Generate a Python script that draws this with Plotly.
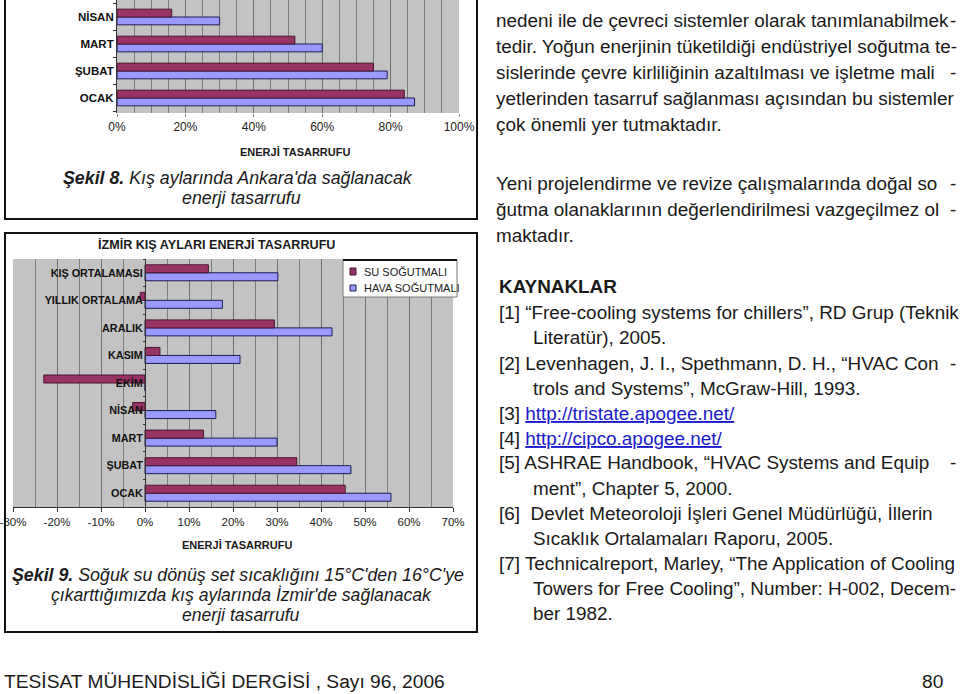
import plotly.graph_objects as go

# Şekil 8 - Ankara (only the lower part of the chart is visible on the page)
ankara_months = ["OCAK", "ŞUBAT", "MART", "NİSAN"]
ankara_su = [0.84, 0.75, 0.52, 0.16]
ankara_hava = [0.87, 0.79, 0.60, 0.30]
ankara_ticks = [0, 0.2, 0.4, 0.6, 0.8, 1.0]
ankara_ticktext = ["0%", "20%", "40%", "60%", "80%", "100%"]

# Şekil 9 - İzmir
izmir_cats = ["OCAK", "ŞUBAT", "MART", "NİSAN", "EKİM", "KASIM", "ARALIK",
              "YILLIK ORTALAMA", "KIŞ ORTALAMASI"]
izmir_su = [0.455, 0.345, 0.133, -0.028, -0.23, 0.034, 0.294, -0.011, 0.144]
izmir_hava = [0.559, 0.468, 0.300, 0.161, 0.0, 0.216, 0.425, 0.176, 0.302]
izmir_ticks = [-0.3, -0.2, -0.1, 0, 0.1, 0.2, 0.3, 0.4, 0.5, 0.6, 0.7]
izmir_ticktext = ["-30%", "-20%", "-10%", "0%", "10%", "20%", "30%", "40%", "50%", "60%", "70%"]

series_names = ["SU SOĞUTMALI", "HAVA SOĞUTMALI"]
su_color, hava_color = "#993366", "#9999FF"

body_lines = [
    "nedeni ile de çevreci sistemler olarak tanımlanabilmek",
    "tedir. Yoğun enerjinin tüketildiği endüstriyel soğutma te-",
    "sislerinde çevre kirliliğinin azaltılması ve işletme mali",
    "yetlerinden tasarruf sağlanması açısından bu sistemler",
    "çok önemli yer tutmaktadır.",
    "Yeni projelendirme ve revize çalışmalarında doğal so",
    "ğutma olanaklarının değerlendirilmesi vazgeçilmez ol",
    "maktadır.",
]
body_y = [21, 47, 73, 99, 124, 183, 209, 235]
body_hyphen = [True, False, True, False, False, True, True, False]

ref_lines = [
    ("[1] “Free-cooling systems for chillers”, RD Grup (Teknik", 0, False, False),
    ("Literatür), 2005.", 1, False, False),
    ("[2] Levenhagen, J. I., Spethmann, D. H., “HVAC Con", 0, True, False),
    ("trols and Systems”, McGraw-Hill, 1993.", 1, False, False),
    ("[3] |http://tristate.apogee.net/", 0, False, True),
    ("[4] |http://cipco.apogee.net/", 0, False, True),
    ("[5] ASHRAE Handbook, “HVAC Systems and Equip", 0, True, False),
    ("ment”, Chapter 5, 2000.", 1, False, False),
    ("[6]  Devlet Meteoroloji İşleri Genel Müdürlüğü, İllerin", 0, False, False),
    ("Sıcaklık Ortalamaları Raporu, 2005.", 1, False, False),
    ("[7] Technicalreport, Marley, “The Application of Cooling", 0, False, False),
    ("Towers for Free Cooling”, Number: H-002, Decem-", 1, False, False),
    ("ber 1982.", 1, False, False),
]
ref_y = [312, 337, 363, 388, 413, 438, 462, 488, 513, 538, 563, 588, 613]

W, H = 960, 694
FONT = "Liberation Sans, Arial, sans-serif"
TXT = "#1a1a1a"
BODY = 18.9


def px(x):
    return x / W


def py(y):
    return 1 - y / H


fig = go.Figure()

# Ankara chart (hava first so su sits above it in each group)
fig.add_trace(go.Bar(y=ankara_months, x=ankara_hava, orientation="h", name=series_names[1],
                     marker=dict(color=hava_color, line=dict(color="#1c1c55", width=1)),
                     xaxis="x", yaxis="y", showlegend=False))
fig.add_trace(go.Bar(y=ankara_months, x=ankara_su, orientation="h", name=series_names[0],
                     marker=dict(color=su_color, line=dict(color="#4a1530", width=1)),
                     xaxis="x", yaxis="y", showlegend=False))

# İzmir chart
fig.add_trace(go.Bar(y=izmir_cats, x=izmir_hava, orientation="h", name=series_names[1],
                     marker=dict(color=hava_color, line=dict(color="#1c1c55", width=1)),
                     xaxis="x2", yaxis="y2", showlegend=False))
fig.add_trace(go.Bar(y=izmir_cats, x=izmir_su, orientation="h", name=series_names[0],
                     marker=dict(color=su_color, line=dict(color="#4a1530", width=1)),
                     xaxis="x2", yaxis="y2", showlegend=False))

grid = dict(showgrid=True, gridcolor="#6f6f6f", gridwidth=1, automargin=False,
            ticklabeloverflow="allow")
minor = dict(dtick=0.05, tick0=0, showgrid=True, gridcolor="#7d7d7d", gridwidth=1)

fig.update_layout(
    template="none",
    width=W, height=H,
    margin=dict(l=0, r=0, t=0, b=0, pad=0),
    paper_bgcolor="white",
    plot_bgcolor="#c3c3c3",
    barmode="group", bargap=0.42, bargroupgap=0,
    showlegend=False,
    font=dict(family=FONT, color=TXT),
    xaxis=dict(domain=[px(117), px(459)], anchor="y", range=[0, 1],
               tickmode="array", tickvals=ankara_ticks, ticktext=ankara_ticktext,
               tickfont=dict(size=12, color="#222"),
               ticks="outside", ticklen=3, tickcolor="#888",
               zeroline=False, showline=False, minor=minor, **grid),
    yaxis=dict(domain=[py(113), 1], anchor="x", range=[-0.556, 3.63], automargin=False,
               tickfont=dict(size=11.5, weight="bold", color="#111"),
               ticks="outside", ticklen=3, tickson="boundaries", tickcolor="#333",
               showline=True, linecolor="#333", linewidth=1, showgrid=False, zeroline=False),
    xaxis2=dict(domain=[px(13), px(453)], anchor="y2", range=[-0.3, 0.7],
                tickmode="array", tickvals=izmir_ticks, ticktext=izmir_ticktext,
                tickfont=dict(size=11.5, color="#222"),
                ticks="outside", ticklen=4, tickcolor="#333",
                showline=True, linecolor="#333", linewidth=1,
                zeroline=True, zerolinecolor="#333", zerolinewidth=1,
                minor=minor, **grid),
    yaxis2=dict(domain=[py(507), py(259)], anchor="free", position=px(145),
                range=[-0.5, 8.5], automargin=False,
                tickfont=dict(size=10.8, weight="bold", color="#111"),
                ticks="outside", ticklen=2, tickson="boundaries", tickcolor="#333",
                showline=True, linecolor="#333", linewidth=1, showgrid=False, zeroline=False),
)

shapes = [
    # figure frames
    dict(type="rect", xref="paper", yref="paper", x0=px(5), x1=px(477), y0=py(219), y1=py(-10),
         line=dict(color="#111", width=2)),
    dict(type="rect", xref="paper", yref="paper", x0=px(5), x1=px(477), y0=py(632), y1=py(233),
         line=dict(color="#111", width=2)),
    # legend box of the İzmir chart
    dict(type="rect", xref="paper", yref="paper", x0=px(343), x1=px(457), y0=py(297), y1=py(260),
         fillcolor="white", line=dict(color="#777", width=1), layer="above"),
    dict(type="line", xref="paper", yref="paper", x0=px(343), x1=px(457), y0=py(260), y1=py(260),
         line=dict(color="#111", width=2), layer="above"),
    dict(type="rect", xref="paper", yref="paper", x0=px(350), x1=px(356), y0=py(275), y1=py(268),
         fillcolor=su_color, line=dict(color="#4a1530", width=1), layer="above"),
    dict(type="rect", xref="paper", yref="paper", x0=px(350), x1=px(356), y0=py(291), y1=py(285),
         fillcolor=hava_color, line=dict(color="#1c1c55", width=1), layer="above"),
]
fig.update_layout(shapes=shapes)

ann = []


def text(x, y, s, size, anchor="left", **kw):
    ann.append(dict(x=px(x), y=py(y), xref="paper", yref="paper", text=s, showarrow=False,
                    xanchor=anchor, yanchor="middle",
                    font=dict(family=FONT, size=size, color=kw.get("color", TXT))))


# legend texts
text(362, 272, series_names[0], 11)
text(362, 288, series_names[1], 11)

# chart titles / axis titles / captions
text(216, 245, "<b>İZMİR KIŞ AYLARI ENERJİ TASARRUFU</b>", 12.6, "center")
text(295, 152, "<b>ENERJİ TASARRUFU</b>", 11, "center")
text(237, 545, "<b>ENERJİ TASARRUFU</b>", 11, "center")
text(238, 178, "<b><i>Şekil 8.</i></b><i> Kış aylarında Ankara'da sağlanacak</i>", 17.8, "center")
text(241, 198, "<i>enerji tasarrufu</i>", 17.8, "center")
text(238, 575, "<b><i>Şekil 9.</i></b><i> Soğuk su dönüş set sıcaklığını 15°C'den 16°C'ye</i>",
     17.8, "center")
text(241, 595, "<i>çıkarttığımızda kış aylarında İzmir'de sağlanacak</i>", 17.6, "center")
text(241, 615, "<i>enerji tasarrufu</i>", 17.6, "center")

# right column body text
for s, y, hy in zip(body_lines, body_y, body_hyphen):
    text(494, y, s, BODY)
    if hy:
        text(958, y, "-", BODY, "right")

text(497, 286, "<b>KAYNAKLAR</b>", BODY)
for (s, indent, hy, link), y in zip(ref_lines, ref_y):
    x = 531 if indent else 497
    if link:
        head, url = s.split("|")
        s = head + "<span style='color:#1a1acc'><u>" + url + "</u></span>"
    text(x, y, s, BODY)
    if hy:
        text(958, y, "-", BODY, "right")

# footer
text(2, 681, "TESİSAT MÜHENDİSLİĞİ DERGİSİ , Sayı 96, 2006", 19.2)
text(945, 681, "80", 19.2, "right")

fig.update_layout(annotations=ann)

# the page is a 960x694 sheet: drop the browser's default body margin
fig.write_html("out.html", config={"displayModeBar": False},
               post_script="document.body.style.margin='0';")
